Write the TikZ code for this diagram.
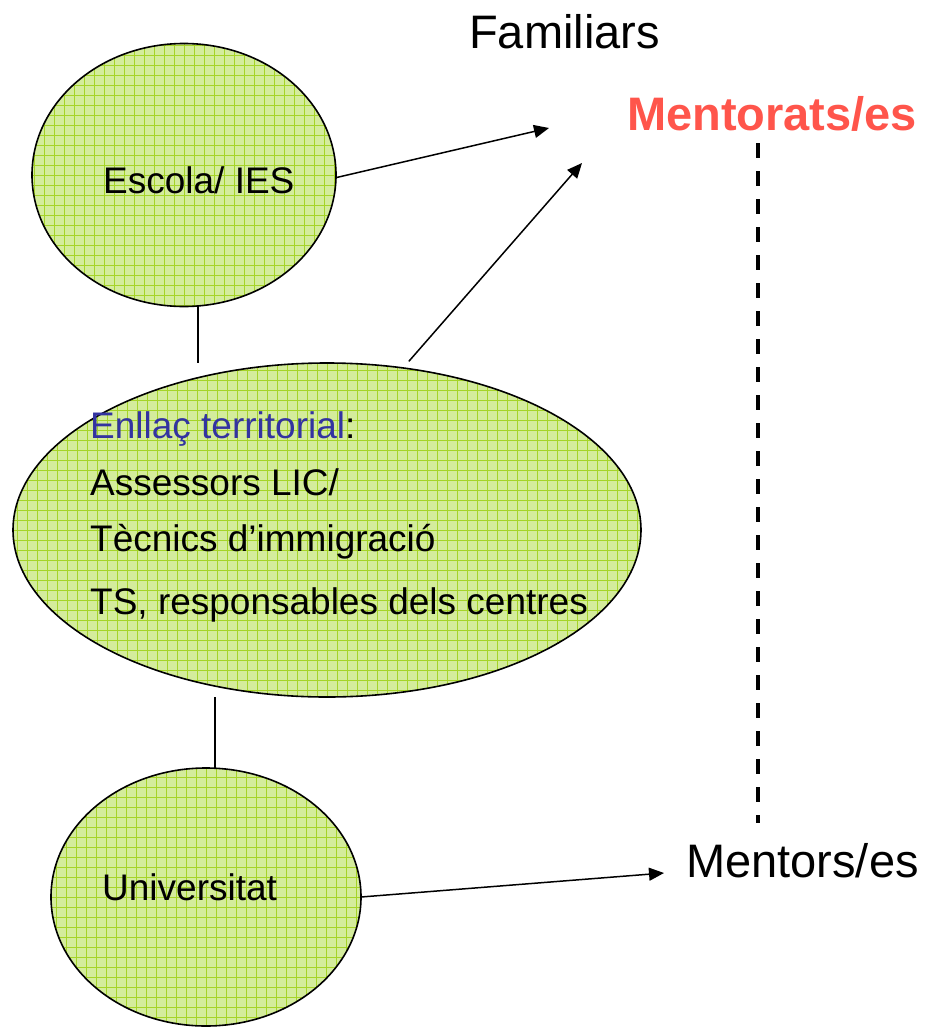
\documentclass[tikz,border=0pt]{standalone}
\usepackage{fontspec}
\setmainfont{Liberation Sans}
\usetikzlibrary{shapes.geometric,arrows.meta,calc}
\definecolor{fillg}{RGB}{212,236,156}
\definecolor{gridg}{RGB}{165,212,40}
\definecolor{mred}{RGB}{255,85,75}
\definecolor{eblue}{RGB}{51,51,160}
\tikzset{
 bubble/.style={ellipse, draw=black, line width=1.6pt, inner sep=0pt, outer sep=0pt,
   path picture={\fill[fillg] (path picture bounding box.south west) rectangle (path picture bounding box.north east);
     \draw[gridg, line width=0.75pt, step=10pt] (path picture bounding box.south west) grid (path picture bounding box.north east);}},
 bigtxt/.style={anchor=base west, inner sep=0pt, font=\fontsize{47}{56}\selectfont},
 midtxt/.style={anchor=base west, inner sep=0pt, font=\fontsize{37}{44}\selectfont},
 link/.style={line width=1.5pt},
 arr/.style={line width=1.5pt, -{Triangle[length=15pt,width=13pt]}},
 dashline/.style={line width=3.2pt, dash pattern=on 15pt off 13pt},
}
\begin{document}
\begin{tikzpicture}[x=1pt,y=-1pt]
\useasboundingbox (0,0) rectangle (924,1028);
% ellipses
\node[bubble, minimum width=304pt, minimum height=263pt] (esc) at (184,175) {};
\node[bubble, minimum width=628pt, minimum height=334pt] (enl) at (327,530) {};
\node[bubble, minimum width=310pt, minimum height=258pt] (uni) at (206,897) {};
% texts
\node[midtxt] (esct) at (103,193) {Escola/ IES};
\node[midtxt] (unit) at (102,900) {Universitat};
\node[midtxt] (l1) at (90,438) {{\color{eblue}Enllaç territorial}:};
\node[midtxt] (l2) at (90,495) {Assessors LIC/};
\node[midtxt] (l3) at (90,551) {Tècnics d’immigració};
\node[midtxt] (l4) at (90,614) {TS, responsables dels centres};
\node[bigtxt] (fam) at (469,48) {Familiars};
\node[bigtxt, text=mred, font=\fontsize{47}{56}\selectfont\bfseries] (mtd) at (627,130) {Mentorats/es};
\node[bigtxt] (mto) at (686,877) {Mentors/es};
% free ends
\coordinate (t1) at (549,128);
\coordinate (t2) at (582,163);
\coordinate (t3) at (664,873);
\coordinate (d1) at (758,143);
\coordinate (d2) at (758,823);
% connectors
\draw[link] (esc.-84) -- (esc.-84 |- enl.north);
\draw[link] (uni.86.5 |- enl.south) -- (uni.86.5);
\draw[arr] (esc.-1) -- (t1);
\draw[arr] ($(enl.64)+(3,-7)$) -- (t2);
\draw[arr] (uni.east) -- (t3);
\draw[dashline] (d1) -- (d2);
\end{tikzpicture}
\end{document}
